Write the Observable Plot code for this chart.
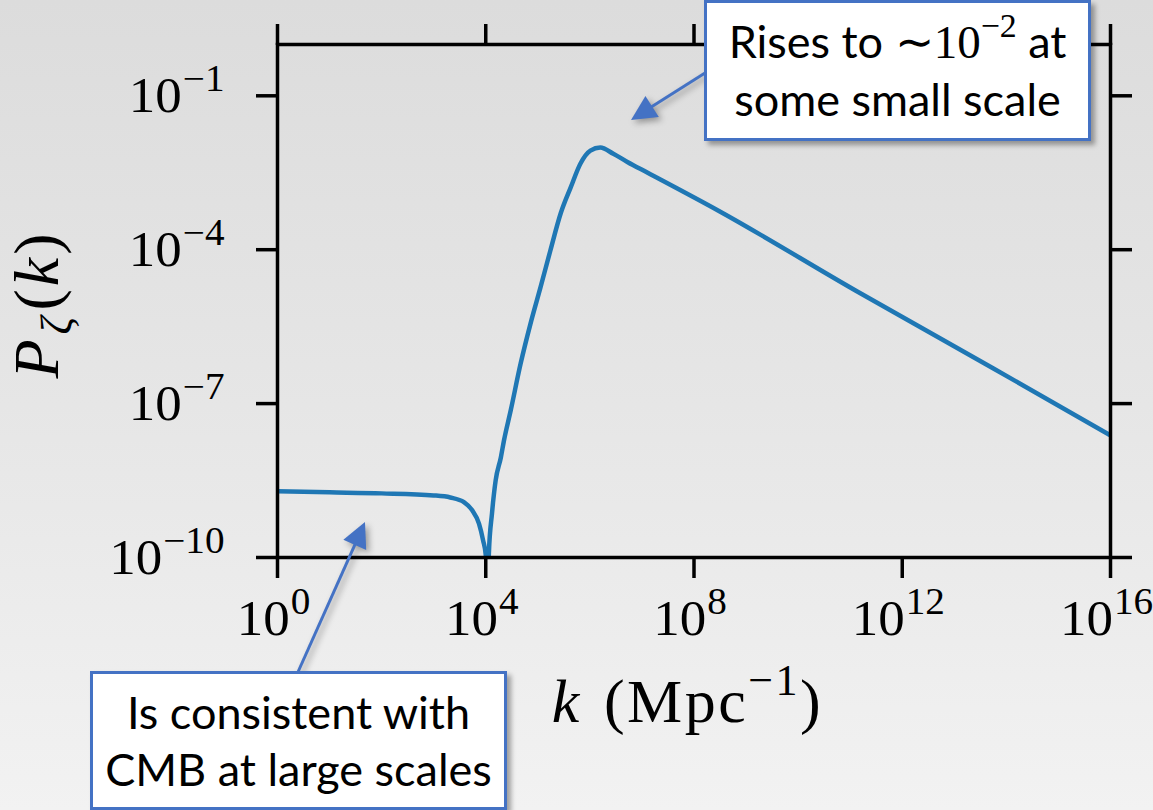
<!DOCTYPE html>
<html>
<head>
<meta charset="utf-8">
<script src="https://cdn.jsdelivr.net/npm/d3@7"></script>
<script src="https://cdn.jsdelivr.net/npm/@observablehq/plot@0.6"></script>
<style>
  html, body { margin: 0; padding: 0; }
  body {
    width: 1153px; height: 810px; overflow: hidden;
    background: linear-gradient(to bottom, #dcdcdc 0%, #e6e6e6 50%, #f2f2f2 100%);
  }
  #wrap { position: relative; width: 1153px; height: 810px; }
  #wrap svg { position: absolute; left: 0; top: 0; }
  .note {
    position: absolute; box-sizing: border-box;
    background: #fff; border: 3px solid #4472c4;
    box-shadow: 4px 4px 5px rgba(0,0,0,0.35);
    display: flex; flex-direction: column; justify-content: center; align-items: center;
    font-family: Lato, "Open Sans", sans-serif; font-size: 45px; line-height: 57px; color: #000;
    white-space: nowrap;
  }
  .note .m { font-family: "Liberation Serif", serif; font-size: 47px; }
  .note sup { font-size: 0.72em; line-height: 0; vertical-align: 0.62em; }
</style>
</head>
<body>
<div id="wrap"></div>
<script>
// Curvature power spectrum P_zeta(k): log10 k and log10 P
const log10k = [0.00, 1.00, 2.00, 3.00, 3.32, 3.58, 3.74, 3.87, 3.95, 4.00, 4.03, 4.06, 4.12, 4.19, 4.29, 4.35, 4.48, 4.67, 4.86, 5.05, 5.24, 5.44, 5.63, 5.82, 6.01, 6.20, 6.45, 6.72, 7.11, 8.47, 11.11, 13.76, 16.00];
const log10P = [-8.71, -8.73, -8.75, -8.79, -8.83, -8.92, -9.08, -9.34, -9.67, -9.95, -11.0, -9.92, -9.14, -8.50, -8.05, -7.72, -7.13, -6.22, -5.44, -4.74, -4.02, -3.29, -2.79, -2.32, -2.07, -2.01, -2.13, -2.29, -2.50, -3.24, -4.80, -6.32, -7.62];

// Axis ticks
const xTicks = [1e0, 1e4, 1e8, 1e12, 1e16];
const yTicks = [1e-1, 1e-4, 1e-7, 1e-10];

// Annotation text and arrow targets (data coordinates)
const noteTop = ["Rises to ", "∼10", "−2", " at", "some small scale"];
const noteBottom = ["Is consistent with", "CMB at large scales"];
const arrowTopTip = [10 ** 6.80, 10 ** -1.48];
const arrowBottomTip = [10 ** 1.69, 10 ** -9.32];

const spectrum = log10k.map((lk, i) => ({k: 10 ** lk, P: 10 ** log10P[i]}));

const sup = d => {
  const e = Math.round(Math.log10(d));
  return "10^" + String(e).replace("-", "−");
};
const blank = () => "";

const chart = Plot.plot({
  width: 1153,
  height: 810,
  marginLeft: 277,
  marginRight: 43,
  marginTop: 44,
  marginBottom: 253,
  style: {background: "transparent", fontFamily: "'Liberation Serif', serif", fontSize: "50px", color: "#000", overflow: "visible"},
  x: {type: "log", domain: [1, 1e16]},
  y: {type: "log", domain: [1e-10, 1]},
  marks: [
    Plot.line(spectrum, {x: "k", y: "P", stroke: "#1f77b4", strokeWidth: 4.5, curve: "monotone-x", clip: true}),
    Plot.frame({stroke: "#000", strokeWidth: 3.5}),
    Plot.axisX(xTicks, {anchor: "bottom", tickSize: 21, tickPadding: 21, strokeWidth: 3.5, tickFormat: sup, label: null}),
    Plot.axisX(xTicks, {anchor: "top", tickSize: 21, strokeWidth: 3.5, tickFormat: blank, label: null}),
    Plot.axisY(yTicks, {anchor: "left", tickSize: 21, tickPadding: 32, strokeWidth: 3.5, tickFormat: sup, label: null}),
    Plot.axisY(yTicks, {anchor: "right", tickSize: 21, strokeWidth: 3.5, tickFormat: blank, label: null})
  ]
});

const wrap = document.getElementById("wrap");
wrap.appendChild(chart);
const svg = d3.select(chart);

// Heavier tick strokes, like the spines
svg.selectAll("g[aria-label$='-axis tick'] path").attr("stroke-width", 3.5);

// Turn "10^e" tick labels into base + raised exponent, set a little wider;
// the k labels sit slightly left of their ticks
svg.selectAll("text").each(function () {
  const t = this.textContent;
  const m = /^10\^(.+)$/.exec(t);
  if (!m) return;
  const el = d3.select(this);
  const isX = (this.parentNode.getAttribute("aria-label") || "").startsWith("x");
  el.text(null);
  el.append("tspan").text("10");
  el.append("tspan").attr("font-size", 37).attr("dy", -21).attr("dx", 1).text(m[1]);
  const tr = el.attr("transform");
  if (tr) el.attr("transform", tr + (isX ? " translate(-4,0)" : "") + " scale(1.06,1)");
});

const sx = chart.scale("x"), sy = chart.scale("y");
const L = 277, R = 1110, T = 44, B = 557;

// Axis titles
const xl = svg.append("text")
  .attr("transform", `translate(${(L + R) / 2 - 6},722)`)
  .attr("text-anchor", "middle")
  .attr("font-size", 62).attr("fill", "#000")
  .style("letter-spacing", "2.5px").style("word-spacing", "4px");
xl.append("tspan").attr("font-style", "italic").text("k");
xl.append("tspan").text(" (Mpc");
xl.append("tspan").attr("font-size", 44).attr("dy", -27).text("−1");
xl.append("tspan").attr("dy", 27).text(")");

const yl = svg.append("text")
  .attr("transform", `translate(58,${(T + B) / 2 + 4}) rotate(-90)`)
  .attr("text-anchor", "middle")
  .attr("font-size", 64).attr("fill", "#000")
  .style("letter-spacing", "3px");
yl.append("tspan").attr("font-style", "italic").text("P");
yl.append("tspan").attr("font-style", "italic").attr("font-size", 44).attr("dy", 13).attr("dx", 2).text("ζ");
yl.append("tspan").attr("dy", -13).attr("dx", 3).text("(");
yl.append("tspan").attr("font-style", "italic").text("k");
yl.append("tspan").text(")");

// Annotation arrows
function arrow(x0, y0, tip) {
  const x1 = sx.apply(tip[0]), y1 = sy.apply(tip[1]);
  const dx = x1 - x0, dy = y1 - y0, len = Math.hypot(dx, dy);
  const ux = dx / len, uy = dy / len, head = 25, half = 12.5;
  const bx = x1 - ux * head, by = y1 - uy * head;
  const g = svg.append("g").style("filter", "drop-shadow(3px 3px 3px rgba(0,0,0,0.35))");
  g.append("line").attr("x1", x0).attr("y1", y0).attr("x2", bx + ux * 2).attr("y2", by + uy * 2)
    .attr("stroke", "#4472c4").attr("stroke-width", 3);
  g.append("polygon")
    .attr("points", [[x1, y1], [bx - uy * half, by + ux * half], [bx + uy * half, by - ux * half]].map(p => p.join(",")).join(" "))
    .attr("fill", "#4472c4");
}
arrow(705, 73, arrowTopTip);
arrow(298, 672, arrowBottomTip);

// Annotation boxes
function note(left, top, width, height, html) {
  const d = document.createElement("div");
  d.className = "note";
  Object.assign(d.style, {left: left + "px", top: top + "px", width: width + "px", height: height + "px"});
  d.innerHTML = html;
  wrap.appendChild(d);
}
note(704, 0, 387, 141,
  `<div>${noteTop[0]}<span class="m">${noteTop[1]}<sup>${noteTop[2]}</sup></span>${noteTop[3]}</div><div>${noteTop[4]}</div>`);
note(90, 671, 417, 139,
  `<div>${noteBottom[0]}</div><div>${noteBottom[1]}</div>`);
</script>
</body>
</html>
